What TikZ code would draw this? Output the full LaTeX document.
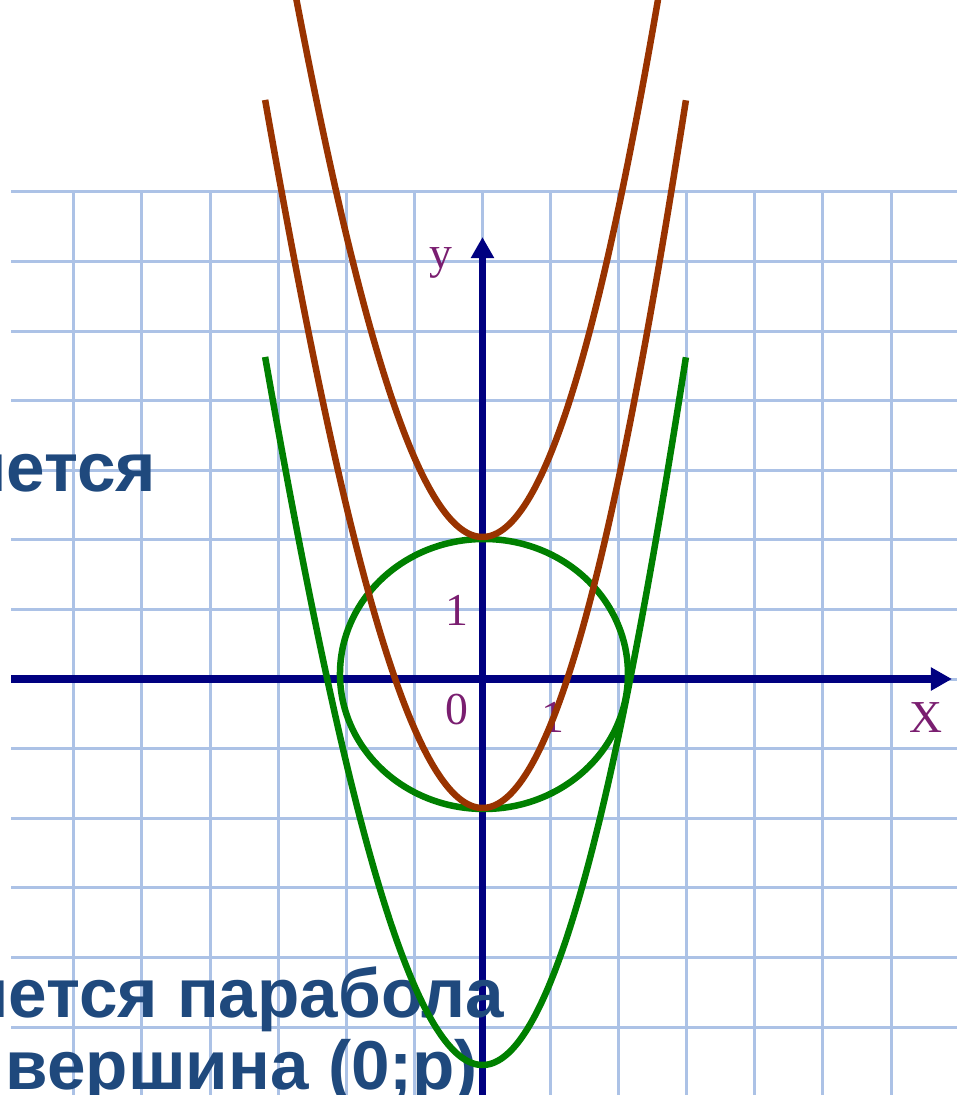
\documentclass[tikz,border=0pt]{standalone}
\usepackage{fontspec}
\setmainfont{Liberation Serif}
\setsansfont{Liberation Sans}
\usetikzlibrary{arrows.meta}

\definecolor{gridblue}{RGB}{172,194,230}
\definecolor{axisblue}{RGB}{0,0,128}
\definecolor{parabbrown}{RGB}{153,51,0}
\definecolor{parabgreen}{RGB}{0,128,0}
\definecolor{labelpurple}{RGB}{122,30,112}
\definecolor{textblue}{RGB}{31,73,125}

\begin{document}
\begin{tikzpicture}[
  x=0.681cm, y=0.696cm,
  declare function={f(\t)=1.18*\t*\t-0.012*\t*\t*\t*\t;},
  gridline/.style={draw=gridblue, line width=0.03cm},
  axis/.style={draw=axisblue, line width=0.075cm,
               -{Triangle[length=0.21cm, width=0.22cm]}},
  curve/.style={line width=0.065cm, samples=90, smooth},
  lbl/.style={inner sep=0pt, text=labelpurple,
              font=\fontsize{13}{15}\selectfont},
  caption/.style={inner sep=0pt, text=textblue,
                  font=\fontsize{19.7}{22}\selectfont\sffamily\bfseries},
]
\useasboundingbox (-7.085,-5.977) rectangle (6.968,9.756);
\clip (-7.085,-5.977) rectangle (6.968,9.756);

% Grid
\foreach \i in {-6,...,6}
  \draw[gridline] (\i,7) -- (\i,-6);
\foreach \j in {-5,...,7}
  \draw[gridline] (-6.92,\j) -- (6.97,\j);

% Axes
\coordinate (xstart) at (-6.92,0);
\coordinate (xend) at (6.894,0);
\coordinate (ystart) at (0,-6);
\coordinate (yend) at (0,6.35);
\draw[axis] (xstart) -- (xend);
\draw[axis] (ystart) -- (yend);

% Labels
\node[lbl] (ylab) at (-0.61,5.98) {y};
\node[lbl] (yone) at (-0.375,0.99) {1};
\node[lbl] (zero) at (-0.375,-0.445) {0};
\node[lbl] (xone) at (1.035,-0.55) {1};
\node[lbl] (xlab) at (6.51,-0.55) {X};

% Text
\node[caption, anchor=base east] (capa) at (-4.78,2.687) {является};
\node[caption, anchor=base east] (capb) at (0.33,-4.87) {является парабола};
\node[caption, anchor=base west] (capc) at (-7.01,-5.905) {вершина (0;p)};

% Circle and parabolas
\draw[parabgreen, line width=0.065cm] (0.022,0.072)
  ellipse [x radius=1.44cm, y radius=1.35cm];
\draw[parabgreen, curve, domain=-3.09:3.09]
  plot ({\x-0.01*f(\x)},{f(\x)-5.546});
\draw[parabbrown, curve, domain=-3.09:3.09]
  plot ({\x-0.01*f(\x)},{f(\x)-1.853});
\draw[parabbrown, curve, domain=-2.75:2.75]
  plot ({\x-0.01*f(\x)},{f(\x)+2.04});

\end{tikzpicture}
\end{document}
